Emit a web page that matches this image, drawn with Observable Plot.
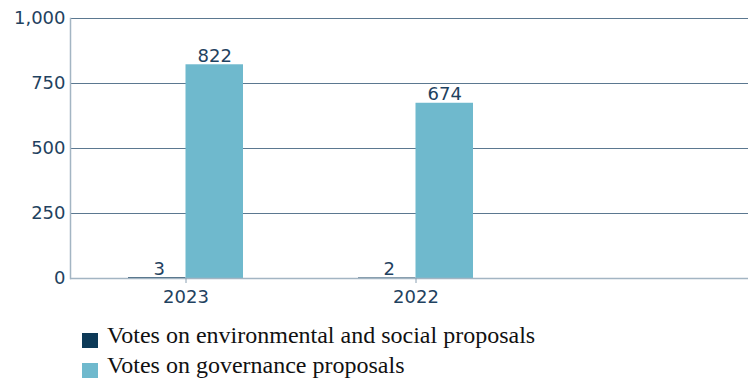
<!DOCTYPE html>
<html><head><meta charset="utf-8">
<script src="https://cdn.jsdelivr.net/npm/d3@7"></script>
<script src="https://cdn.jsdelivr.net/npm/@observablehq/plot@0.6"></script>
<style>
body{margin:0;background:#fff;width:750px;height:381px;position:relative;overflow:hidden}
#chart{position:absolute;left:0;top:0}
.row{position:absolute;left:0;height:30px;line-height:30px;font-family:"Liberation Serif","Times New Roman",serif;font-size:24px;color:#111;white-space:nowrap}
.sw{position:absolute;left:82px;top:13px;width:16px;height:15px}
.lab{position:absolute;left:107px;top:0}
</style></head><body>
<div id="chart"></div>
<div id="legend"></div>
<script>
const years = ["2023", "2022"];
const envSocial = [3, 2];
const governance = [822, 674];
const seriesNames = ["Votes on environmental and social proposals", "Votes on governance proposals"];
const colors = ["#0d3a58", "#6fb9cd"];
const yTicks = [0, 250, 500, 750, 1000];

const env = years.map((y, i) => ({year: y, value: envSocial[i], series: seriesNames[0]}));
const gov = years.map((y, i) => ({year: y, value: governance[i], series: seriesNames[1]}));
const half = 57.5;
const ink = "#1f4260";

const chart = Plot.plot({
  width: 750, height: 308,
  marginLeft: 70, marginRight: 2, marginTop: 18, marginBottom: 30,
  x: {domain: [...years, ""], range: [70, 760], paddingInner: 0.5, paddingOuter: 0.25, label: null},
  y: {domain: [0, 1000], label: null},
  style: {fontFamily: "DejaVu Sans", fontSize: "18px", color: ink, background: "#fff", overflow: "hidden"},
  marks: [
    Plot.gridY(yTicks, {stroke: "#5b7890", strokeOpacity: 1, strokeWidth: 1}),
    Plot.barY(env, {x: "year", y: "value", fill: colors[0], insetRight: half}),
    Plot.barY(gov, {x: "year", y: "value", fill: colors[1], insetLeft: half}),
    Plot.text(env, {x: "year", y: "value", text: d => String(d.value), dx: -half / 2 + 2, dy: -3, lineAnchor: "bottom", fill: ink}),
    Plot.text(gov, {x: "year", y: "value", text: d => String(d.value), dx: half / 2, dy: -3, lineAnchor: "bottom", fill: ink}),
    Plot.ruleY([0], {stroke: "#a3b5c3", strokeWidth: 1.5}),
    Plot.frame({anchor: "left", stroke: "#a3b5c3", strokeWidth: 1.5}),
    Plot.axisY(yTicks, {tickSize: 0, tickPadding: 5, tickFormat: d3.format(","), label: null, fill: ink}),
    Plot.axisX(years, {tickSize: 5, tickPadding: 7, label: null, stroke: "#8aa0b2", fill: ink})
  ]
});
document.getElementById("chart").append(chart);

const legend = document.getElementById("legend");
seriesNames.forEach((name, i) => {
  const row = document.createElement("div");
  row.className = "row";
  row.style.top = (320 + i * 30) + "px";
  row.style.width = "750px";
  const sw = document.createElement("span");
  sw.className = "sw";
  sw.style.background = colors[i];
  const lab = document.createElement("span");
  lab.className = "lab";
  lab.textContent = name;
  row.append(sw, lab);
  legend.append(row);
});
</script>
</body></html>
